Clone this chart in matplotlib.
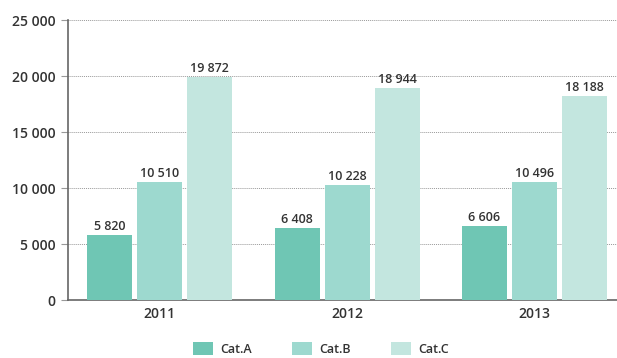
import numpy as np
import matplotlib.pyplot as plt

years = ["2011", "2012", "2013"]
series_names = ["Cat.A", "Cat.B", "Cat.C"]
cat_a = [5820, 6408, 6606]
cat_b = [10510, 10228, 10496]
cat_c = [19872, 18944, 18188]
y_ticks = [0, 5000, 10000, 15000, 20000, 25000]

colors = ["#6fc6b4", "#9dd9cf", "#c3e6df"]
text_color = "#333333"

plt.rcParams["font.family"] = ["Open Sans", "DejaVu Sans"]

fig = plt.figure(figsize=(6.17, 3.58), dpi=100)
ax = fig.add_axes([0.110, 0.162, 0.890, 0.782])

x = np.arange(len(years))
width = 0.24
step = 0.267

for i, (name, vals) in enumerate(zip(series_names, [cat_a, cat_b, cat_c])):
    pos = x + (i - 1) * step
    bars = ax.bar(pos, vals, width, color=colors[i], label=name, zorder=3)
    for b, v in zip(bars, vals):
        ax.text(b.get_x() + b.get_width() / 2, v + 200, f"{v:,}".replace(",", " "),
                ha="center", va="bottom", fontsize=9, color=text_color,
                fontweight="semibold")

ax.set_xlim(-0.49, 2.44)
ax.set_ylim(0, 25000)
ax.set_yticks(y_ticks)
ax.set_yticklabels([f"{v:,}".replace(",", " ") for v in y_ticks],
                   fontsize=10, color=text_color, fontweight="semibold")
ax.set_xticks(x)
ax.set_xticklabels(years, fontsize=10, color=text_color, fontweight="semibold")

ax.grid(axis="y", linestyle=(0, (1, 1)), color="#999999", linewidth=0.7, zorder=0)
ax.tick_params(axis="y", length=5, color="#999999", pad=4)
ax.tick_params(axis="x", length=0, pad=5)

for side in ["top", "right"]:
    ax.spines[side].set_visible(False)
for side in ["left", "bottom"]:
    ax.spines[side].set_color("#666666")
    ax.spines[side].set_linewidth(1.2)

leg = fig.legend(loc="lower center", bbox_to_anchor=(0.52, -0.025), ncol=3,
                 frameon=False, fontsize=9, handlelength=1.6, handleheight=1.3,
                 columnspacing=3.2, handletextpad=0.6)
for t in leg.get_texts():
    t.set_color(text_color)
    t.set_fontweight("semibold")

fig.savefig("out.png", dpi=100)
